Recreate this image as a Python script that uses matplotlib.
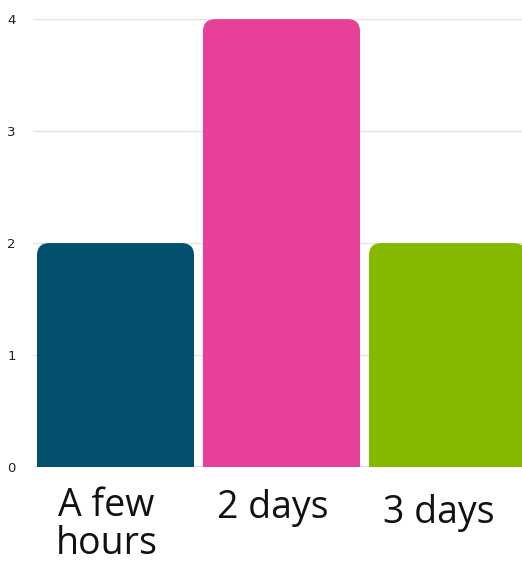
import matplotlib.pyplot as plt
from matplotlib.patches import FancyBboxPatch

categories = ["A few\nhours", "2 days", "3 days"]
counts = [2, 4, 2]
colors = ["#02506b", "#e6409a", "#84b900"]
label_y = [-0.194, -0.114, -0.125]

fig = plt.figure(figsize=(5.22, 5.62), dpi=100)
ax = fig.add_axes([32.5 / 522, 0.169, 498 / 522, 0.797])
ax.set_xlim(-0.5, 2.5)
ax.set_ylim(0, 4)

bw = 0.946
r = 0.075
aspect = (4 / 448) / (3 / 498)
for i, (v, c) in enumerate(zip(counts, colors)):
    p = FancyBboxPatch((i - bw / 2, -0.3), bw, v + 0.3,
                       boxstyle=f"round,pad=0,rounding_size={r}",
                       mutation_aspect=aspect, fc=c, ec="none", zorder=3)
    p.set_clip_on(True)
    ax.add_patch(p)

ax.set_yticks([0, 1, 2, 3, 4])
ax.grid(axis="y", color="#e2e2e2", linewidth=0.9, zorder=0)
ax.axhline(0, color="#d8d8d8", linewidth=1.2, zorder=2)
ax.tick_params(axis="y", length=0, pad=12, labelsize=9.5, labelcolor="#222222")
ax.set_xticks([])
for s in ax.spines.values():
    s.set_visible(False)

for i, lab in enumerate(categories):
    ax.text(i - 0.055, label_y[i], lab, transform=ax.get_xaxis_transform(),
            ha="center", va="baseline", fontsize=27, family="Open Sans",
            color="#111111", linespacing=1.0)

fig.savefig("out.png", dpi=100)
